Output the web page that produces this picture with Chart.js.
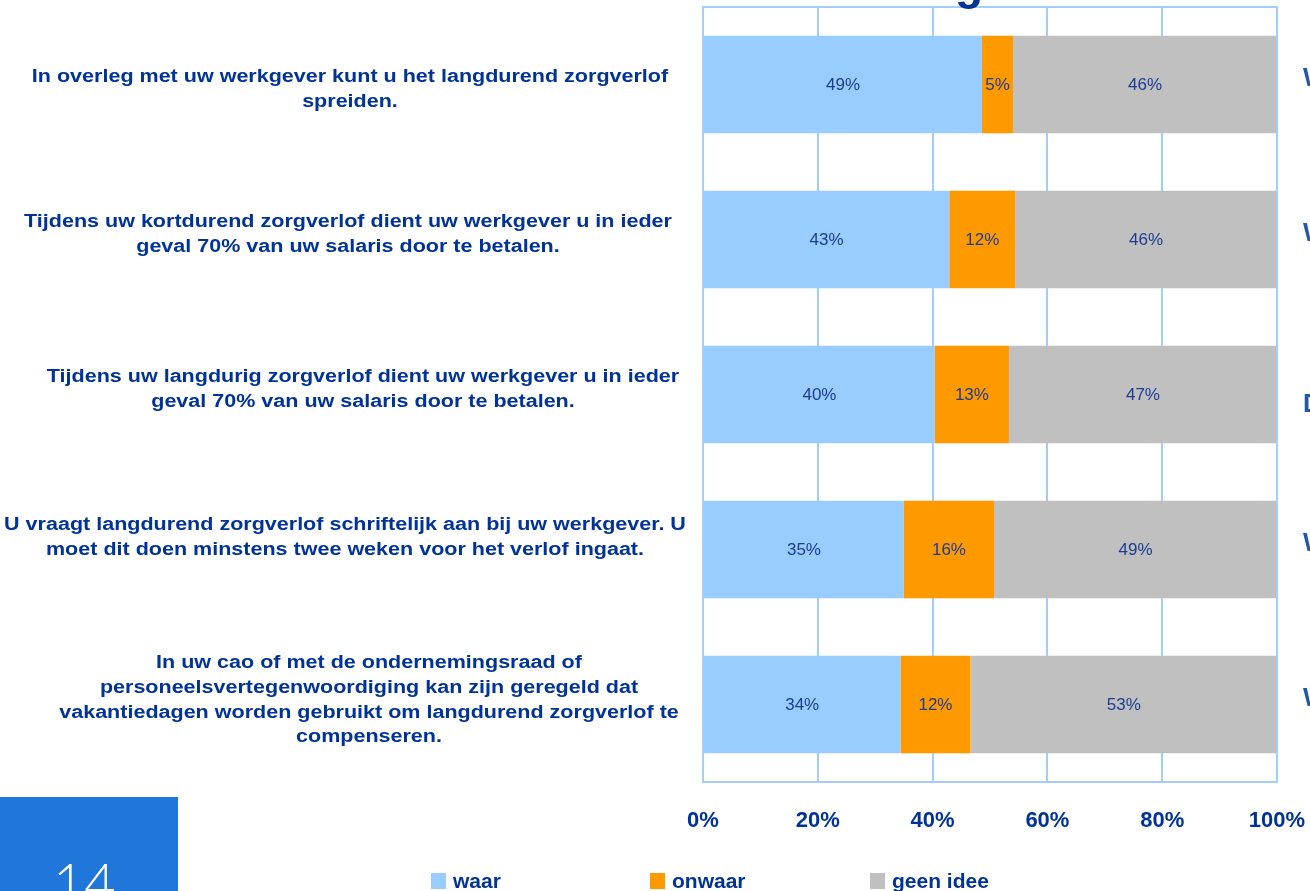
<!DOCTYPE html>
<html>
<head>
<meta charset="utf-8">
<script src="https://cdn.jsdelivr.net/npm/chart.js@4.4.0/dist/chart.umd.min.js"></script>
<style>
  body { margin: 0; background: #fff; overflow: hidden; }
  #wrap { position: relative; width: 1310px; height: 891px; overflow: hidden; font-family: "Liberation Sans", Arial, sans-serif; }
  #chart { position: absolute; left: 0; top: 0; }
  .title { position: absolute; left: 362px; top: -44px; font-size: 46px; font-weight: bold; color: #003399; white-space: nowrap; }
  .page { position: absolute; left: 0; top: 797px; width: 178px; height: 94px; background: #2176d9; }
  .page span { position: absolute; left: 53px; top: 58px; font-family: Lato, "Open Sans", sans-serif; font-weight: 300; font-size: 54px; color: #fff; line-height: 1; }
  .cut { position: absolute; left: 1303px; font-size: 26px; font-weight: bold; color: #1f5aa8; }
  .leg { position: absolute; top: 869px; font-size: 21px; font-weight: bold; color: #003399; white-space: nowrap; }
  .leg i { display: inline-block; width: 15px; height: 16px; vertical-align: -1px; margin-right: 7px; }
</style>
</head>
<body>
<div id="wrap">
  <canvas id="chart" width="1310" height="891"></canvas>
  <div class="title">Kennis van de wet over zorgverlof</div>
  <div class="cut" style="top:62px">W</div>
  <div class="cut" style="top:217px">W</div>
  <div class="cut" style="top:388px">D</div>
  <div class="cut" style="top:527px">W</div>
  <div class="cut" style="top:682px">W</div>
  <div class="leg" style="left:431px"><i style="background:#99ccff"></i>waar</div>
  <div class="leg" style="left:650px"><i style="background:#ff9900"></i>onwaar</div>
  <div class="leg" style="left:870px"><i style="background:#c0c0c0"></i>geen idee</div>
  <div class="page"><span>14</span></div>
</div>
<script>
const statements = [
  ["In overleg met uw werkgever kunt u het langdurend zorgverlof", "spreiden."],
  ["Tijdens uw kortdurend zorgverlof dient uw werkgever u in ieder", "geval 70% van uw salaris door te betalen."],
  ["Tijdens uw langdurig zorgverlof dient uw werkgever u in ieder", "geval 70% van uw salaris door te betalen."],
  ["U vraagt langdurend zorgverlof schriftelijk aan bij uw werkgever. U", "moet dit doen minstens twee weken voor het verlof ingaat."],
  ["In uw cao of met de ondernemingsraad of", "personeelsvertegenwoordiging kan zijn geregeld dat", "vakantiedagen worden gebruikt om langdurend zorgverlof te", "compenseren."]
];
const waar = [48.6, 42.9, 40.4, 35.0, 34.4];
const onwaar = [5.4, 11.5, 12.9, 15.7, 12.2];
const geenIdee = [46.0, 45.6, 46.7, 49.3, 53.4];
const xTicks = [0, 20, 40, 60, 80, 100];

const darkBlue = '#003399';
const gridBlue = '#a4cdf8';
// the text boxes of the original are not all placed the same way
const labelNudge = [[-2, 9], [-4, -1], [11, -1], [-7, -8], [17, 0]];

// percentage text in the middle of every bar piece
const barLabels = {
  id: 'barLabels',
  afterDatasetsDraw(chart) {
    const ctx = chart.ctx;
    ctx.save();
    ctx.font = '17px "Liberation Sans", Arial, sans-serif';
    ctx.fillStyle = '#1c3c94';
    ctx.textAlign = 'center';
    ctx.textBaseline = 'middle';
    chart.data.datasets.forEach((ds, i) => {
      chart.getDatasetMeta(i).data.forEach((bar, j) => {
        const p = bar.getCenterPoint();
        ctx.fillText(Math.round(ds.data[j]) + '%', p.x, p.y + 1);
      });
    });
    ctx.restore();
  }
};

// the statement texts are a little stretched sideways in the original
const stretchedLabels = {
  id: 'stretchedLabels',
  afterDraw(chart) {
    const y = chart.scales.y, ctx = chart.ctx;
    const sx = 1.23, lh = 24.7, cx = 352;
    ctx.save();
    ctx.font = 'bold 17.5px "Liberation Sans", Arial, sans-serif';
    ctx.fillStyle = darkBlue;
    ctx.textAlign = 'center';
    ctx.textBaseline = 'middle';
    chart.data.labels.forEach((lines, i) => {
      const mid = y.getPixelForTick(i) - 4 + labelNudge[i][1];
      lines.forEach((t, k) => {
        const ty = mid + (k - (lines.length - 1) / 2) * lh;
        ctx.save();
        ctx.translate(cx + labelNudge[i][0], ty);
        ctx.scale(sx, 1);
        ctx.fillText(t, 0, 0);
        ctx.restore();
      });
    });
    ctx.restore();
  }
};

// light blue frame round the plot area
const frame = {
  id: 'frame',
  afterDraw(chart) {
    const a = chart.chartArea, ctx = chart.ctx;
    ctx.save();
    ctx.strokeStyle = gridBlue;
    ctx.lineWidth = 2;
    ctx.strokeRect(a.left, a.top, a.right - a.left, a.bottom - a.top);
    ctx.restore();
  }
};

new Chart(document.getElementById('chart'), {
  type: 'bar',
  data: {
    labels: statements,
    datasets: [
      { label: 'waar', data: waar, backgroundColor: '#99ccff' },
      { label: 'onwaar', data: onwaar, backgroundColor: '#ff9900' },
      { label: 'geen idee', data: geenIdee, backgroundColor: '#c0c0c0' }
    ]
  },
  options: {
    indexAxis: 'y',
    responsive: false,
    animation: false,
    layout: { padding: { top: 7, right: 33, bottom: 49, left: 0 } },
    datasets: { bar: { barPercentage: 0.63, categoryPercentage: 1 } },
    plugins: { legend: { display: false }, tooltip: { enabled: false } },
    scales: {
      x: {
        stacked: true,
        min: 0,
        max: 100,
        afterFit: (s) => { s.height = 60; s.paddingLeft = 0; s.paddingRight = 0; },
        afterBuildTicks: (s) => { s.ticks = xTicks.map(v => ({ value: v })); },
        grid: { color: gridBlue, lineWidth: 2, drawTicks: false },
        border: { display: false },
        ticks: {
          padding: 26,
          color: darkBlue,
          font: { family: '"Liberation Sans", Arial, sans-serif', size: 22, weight: 'bold' },
          callback: (v) => v + '%'
        }
      },
      y: {
        stacked: true,
        afterFit: (s) => { s.width = 703; s.paddingTop = 0; s.paddingBottom = 0; },
        grid: { display: false, drawTicks: false },
        border: { display: false },
        ticks: { display: false, autoSkip: false }
      }
    }
  },
  plugins: [barLabels, stretchedLabels, frame]
});
</script>
</body>
</html>
